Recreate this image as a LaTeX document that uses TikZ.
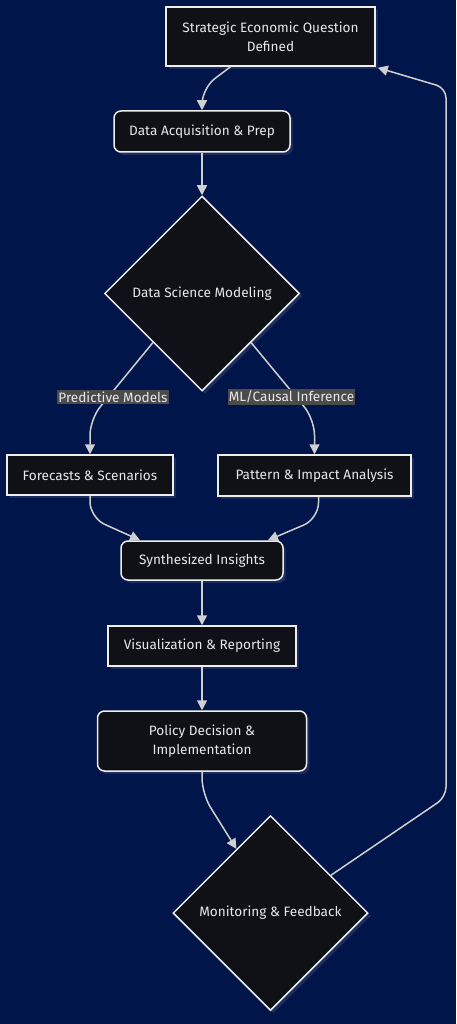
\documentclass[tikz,border=0pt]{standalone}
\usepackage{fontspec}
\setmainfont{Fira Sans}
\usetikzlibrary{shapes.geometric,arrows.meta,shadows,calc}
\definecolor{bg}{HTML}{00154A}
\definecolor{nodefill}{HTML}{101116}
\definecolor{edgec}{HTML}{D0D0D0}
\definecolor{lblbg}{HTML}{4B4B4B}
\definecolor{txt}{HTML}{E8E8E8}
\definecolor{shadowc}{HTML}{1B2B5C}
\definecolor{borderc}{HTML}{EEEEEE}
\begin{document}
\begin{tikzpicture}[x=1pt,y=-1pt,
  base/.style={draw=borderc, line width=1.5pt, fill=nodefill, text=txt,
    font=\fontsize{13.6}{19}\selectfont, align=center, inner sep=0pt,
    drop shadow={shadow xshift=3pt, shadow yshift=-3pt, fill=shadowc, opacity=1}},
  sq/.style={base, rectangle},
  rnd/.style={base, rectangle, rounded corners=7pt},
  dia/.style={base, diamond, aspect=1, minimum width=195pt, minimum height=195pt},
  lbl/.style={fill=lblbg, text=txt, font=\fontsize{13.6}{15}\selectfont, inner xsep=1pt, inner ysep=2pt},
  flow/.style={draw=edgec, line width=1.5pt, -{Triangle[length=10pt,width=10pt]}, rounded corners=16pt}
]
\useasboundingbox (0,0) rectangle (456,1024);
\fill[bg] (0,0) rectangle (456,1024);

\node[sq, minimum width=209pt, minimum height=59pt] (q) at (270.5,36.5) {Strategic Economic Question\\Defined};
\node[rnd, minimum width=176pt, minimum height=41pt] (acq) at (202,131.5) {Data Acquisition \& Prep};
\node[dia] (dsm) at (202,293.5) {Data Science Modeling};
\node[sq, minimum width=166pt, minimum height=40pt] (fc) at (90,475) {Forecasts \& Scenarios};
\node[sq, minimum width=193pt, minimum height=41pt] (pa) at (314.5,475.5) {Pattern \& Impact Analysis};
\node[rnd, minimum width=162pt, minimum height=39pt] (syn) at (202,560.5) {Synthesized Insights};
\node[sq, minimum width=188pt, minimum height=40pt] (viz) at (202,646) {Visualization \& Reporting};
\node[rnd, minimum width=209pt, minimum height=60pt] (pol) at (202,741) {Policy Decision \&\\Implementation};
\node[dia] (mon) at (270.5,913) {Monitoring \& Feedback};

\coordinate (fb1) at (446,797);
\coordinate (fb2) at (446,88);

\draw[flow] ([xshift=-40pt]q.south) -- ($(acq.north)+(0,-22)$) -- (acq.north);
\draw[flow] (acq.south) -- (dsm.north);
\draw[flow] (dsm.225) -- ($(fc.north)+(0,-35)$) -- (fc.north);
\draw[flow] (dsm.315) -- ($(pa.north)+(0,-35)$) -- (pa.north);
\draw[flow] (fc.south) -- ($(fc.south)+(0,22)$) -- ([xshift=-62pt]syn.north);
\draw[flow] ([xshift=4pt]pa.south) -- ($(pa.south)+(4,22)$) -- ([xshift=66pt]syn.north);
\draw[flow] (syn.south) -- (viz.north);
\draw[flow] (viz.south) -- (pol.north);
\draw[flow] (pol.south) -- ($(pol.south)+(0,22)$) -- (mon.118);
\draw[flow, rounded corners=10pt] (mon.32) -- (fb1) -- (fb2) -- ([xshift=2pt,yshift=-1pt]q.south east);

\node[lbl] (lp) at (113,397) {Predictive Models};
\node[lbl] (lm) at (291.5,397) {ML/Causal Inference};
\end{tikzpicture}
\end{document}
